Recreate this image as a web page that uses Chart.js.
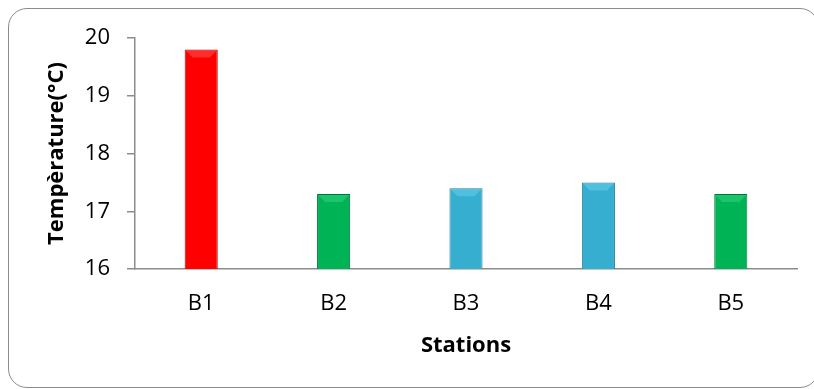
<!DOCTYPE html>
<html lang="fr">
<head>
    <meta charset="UTF-8">
    <title>Température par station</title>
    <script src="https://cdn.jsdelivr.net/npm/chart.js"></script>
    <style>
        body {
            margin: 0;
            padding: 0;
            background: #ffffff;
        }
        .wrap {
            position: relative;
            width: 814px;
            height: 389px;
            overflow: hidden;
        }
        .frame {
            position: absolute;
            left: 8px;
            top: 8px;
            width: 811px;
            height: 380px;
            border: 1.5px solid #8c8c8c;
            border-radius: 19px;
            box-sizing: border-box;
        }
        canvas {
            position: absolute;
            left: 0;
            top: 0;
        }
    </style>
</head>
<body>
    <div class="wrap">
        <div class="frame"></div>
        <canvas id="tempChart" width="814" height="389"></canvas>
    </div>
    <script>
        // Données
        const stations = ['B1', 'B2', 'B3', 'B4', 'B5'];
        const temperatures = [19.8, 17.3, 17.4, 17.5, 17.3];
        const yTicks = [16, 17, 18, 19, 20];

        // couleurs par station : [bord sombre, centre, reflet]
        const palette = {
            red:   ['#b80000', '#ff0000', '#ff4a4a'],
            green: ['#00773a', '#00b354', '#2fcf7c'],
            blue:  ['#247f9a', '#36aed0', '#62cbe8']
        };
        const barColors = ['red', 'green', 'blue', 'blue', 'green'];

        const ctx = document.getElementById('tempChart').getContext('2d');

        function barGradient(context) {
            const el = context.element;
            const c = palette[barColors[context.dataIndex]];
            if (!el || el.x === undefined) return c[1];
            const g = context.chart.ctx.createLinearGradient(el.x - el.width / 2, 0, el.x + el.width / 2, 0);
            g.addColorStop(0, c[0]);
            g.addColorStop(0.12, c[1]);
            g.addColorStop(0.5, c[1]);
            g.addColorStop(0.88, c[1]);
            g.addColorStop(1, c[0]);
            return g;
        }

        // effet biseauté en haut et en bas des barres
        const bevelPlugin = {
            id: 'bevel',
            afterDatasetsDraw(chart) {
                const c2 = chart.ctx;
                const meta = chart.getDatasetMeta(0);
                meta.data.forEach((bar, i) => {
                    const c = palette[barColors[i]];
                    const { x, y, base, width } = bar.getProps(['x', 'y', 'base', 'width'], true);
                    const l = x - width / 2, r = x + width / 2, b = 8;
                    c2.save();
                    // reflet du haut
                    c2.fillStyle = c[2];
                    c2.globalAlpha = 0.6;
                    c2.beginPath();
                    c2.moveTo(l + 1, y + 1);
                    c2.lineTo(r - 1, y + 1);
                    c2.lineTo(r - b, y + b);
                    c2.lineTo(l + b, y + b);
                    c2.closePath();
                    c2.fill();
                    // ombre du bas
                    c2.fillStyle = c[0];
                    c2.globalAlpha = 0.3;
                    c2.beginPath();
                    c2.moveTo(l + 1, base - 1);
                    c2.lineTo(r - 1, base - 1);
                    c2.lineTo(r - b, base - b);
                    c2.lineTo(l + b, base - b);
                    c2.closePath();
                    c2.fill();
                    c2.restore();
                });
            }
        };

        const tickFont = { family: '"Open Sans", sans-serif', size: 22 };
        const titleFont = { family: '"Open Sans", sans-serif', size: 22, weight: 'bold' };

        new Chart(ctx, {
            type: 'bar',
            data: {
                labels: stations,
                datasets: [{
                    label: 'Température (°C)',
                    data: temperatures,
                    backgroundColor: barGradient,
                    borderColor: (context) => palette[barColors[context.dataIndex]][0],
                    borderWidth: 1,
                    barPercentage: 0.25,
                    categoryPercentage: 1.0
                }]
            },
            options: {
                responsive: false,
                animation: false,
                layout: { padding: { top: 38, right: 17, left: 0, bottom: 0 } },
                plugins: {
                    legend: { display: false },
                    tooltip: { enabled: false }
                },
                scales: {
                    x: {
                        grid: { display: false, drawTicks: false },
                        border: { color: '#8c8c8c', width: 1.5 },
                        ticks: { color: '#000', font: tickFont, padding: 22 },
                        title: {
                            display: true,
                            text: 'Stations',
                            color: '#000',
                            font: titleFont,
                            padding: { top: 0, bottom: 30 }
                        },
                        afterFit(scale) { scale.height = 120; }
                    },
                    y: {
                        min: 16,
                        max: 20,
                        afterBuildTicks(scale) { scale.ticks = yTicks.map(v => ({ value: v })); },
                        grid: { drawOnChartArea: false, drawTicks: true, tickLength: 8, color: '#8c8c8c', lineWidth: 1.5 },
                        border: { color: '#8c8c8c', width: 1.5 },
                        ticks: { color: '#000', font: tickFont, padding: 17 },
                        title: {
                            display: true,
                            text: 'Tempèrature(°C)',
                            color: '#000',
                            font: titleFont,
                            padding: { top: 44, bottom: 0 }
                        },
                        afterFit(scale) { scale.width = 135; }
                    }
                }
            },
            plugins: [bevelPlugin]
        });
    </script>
</body>
</html>
